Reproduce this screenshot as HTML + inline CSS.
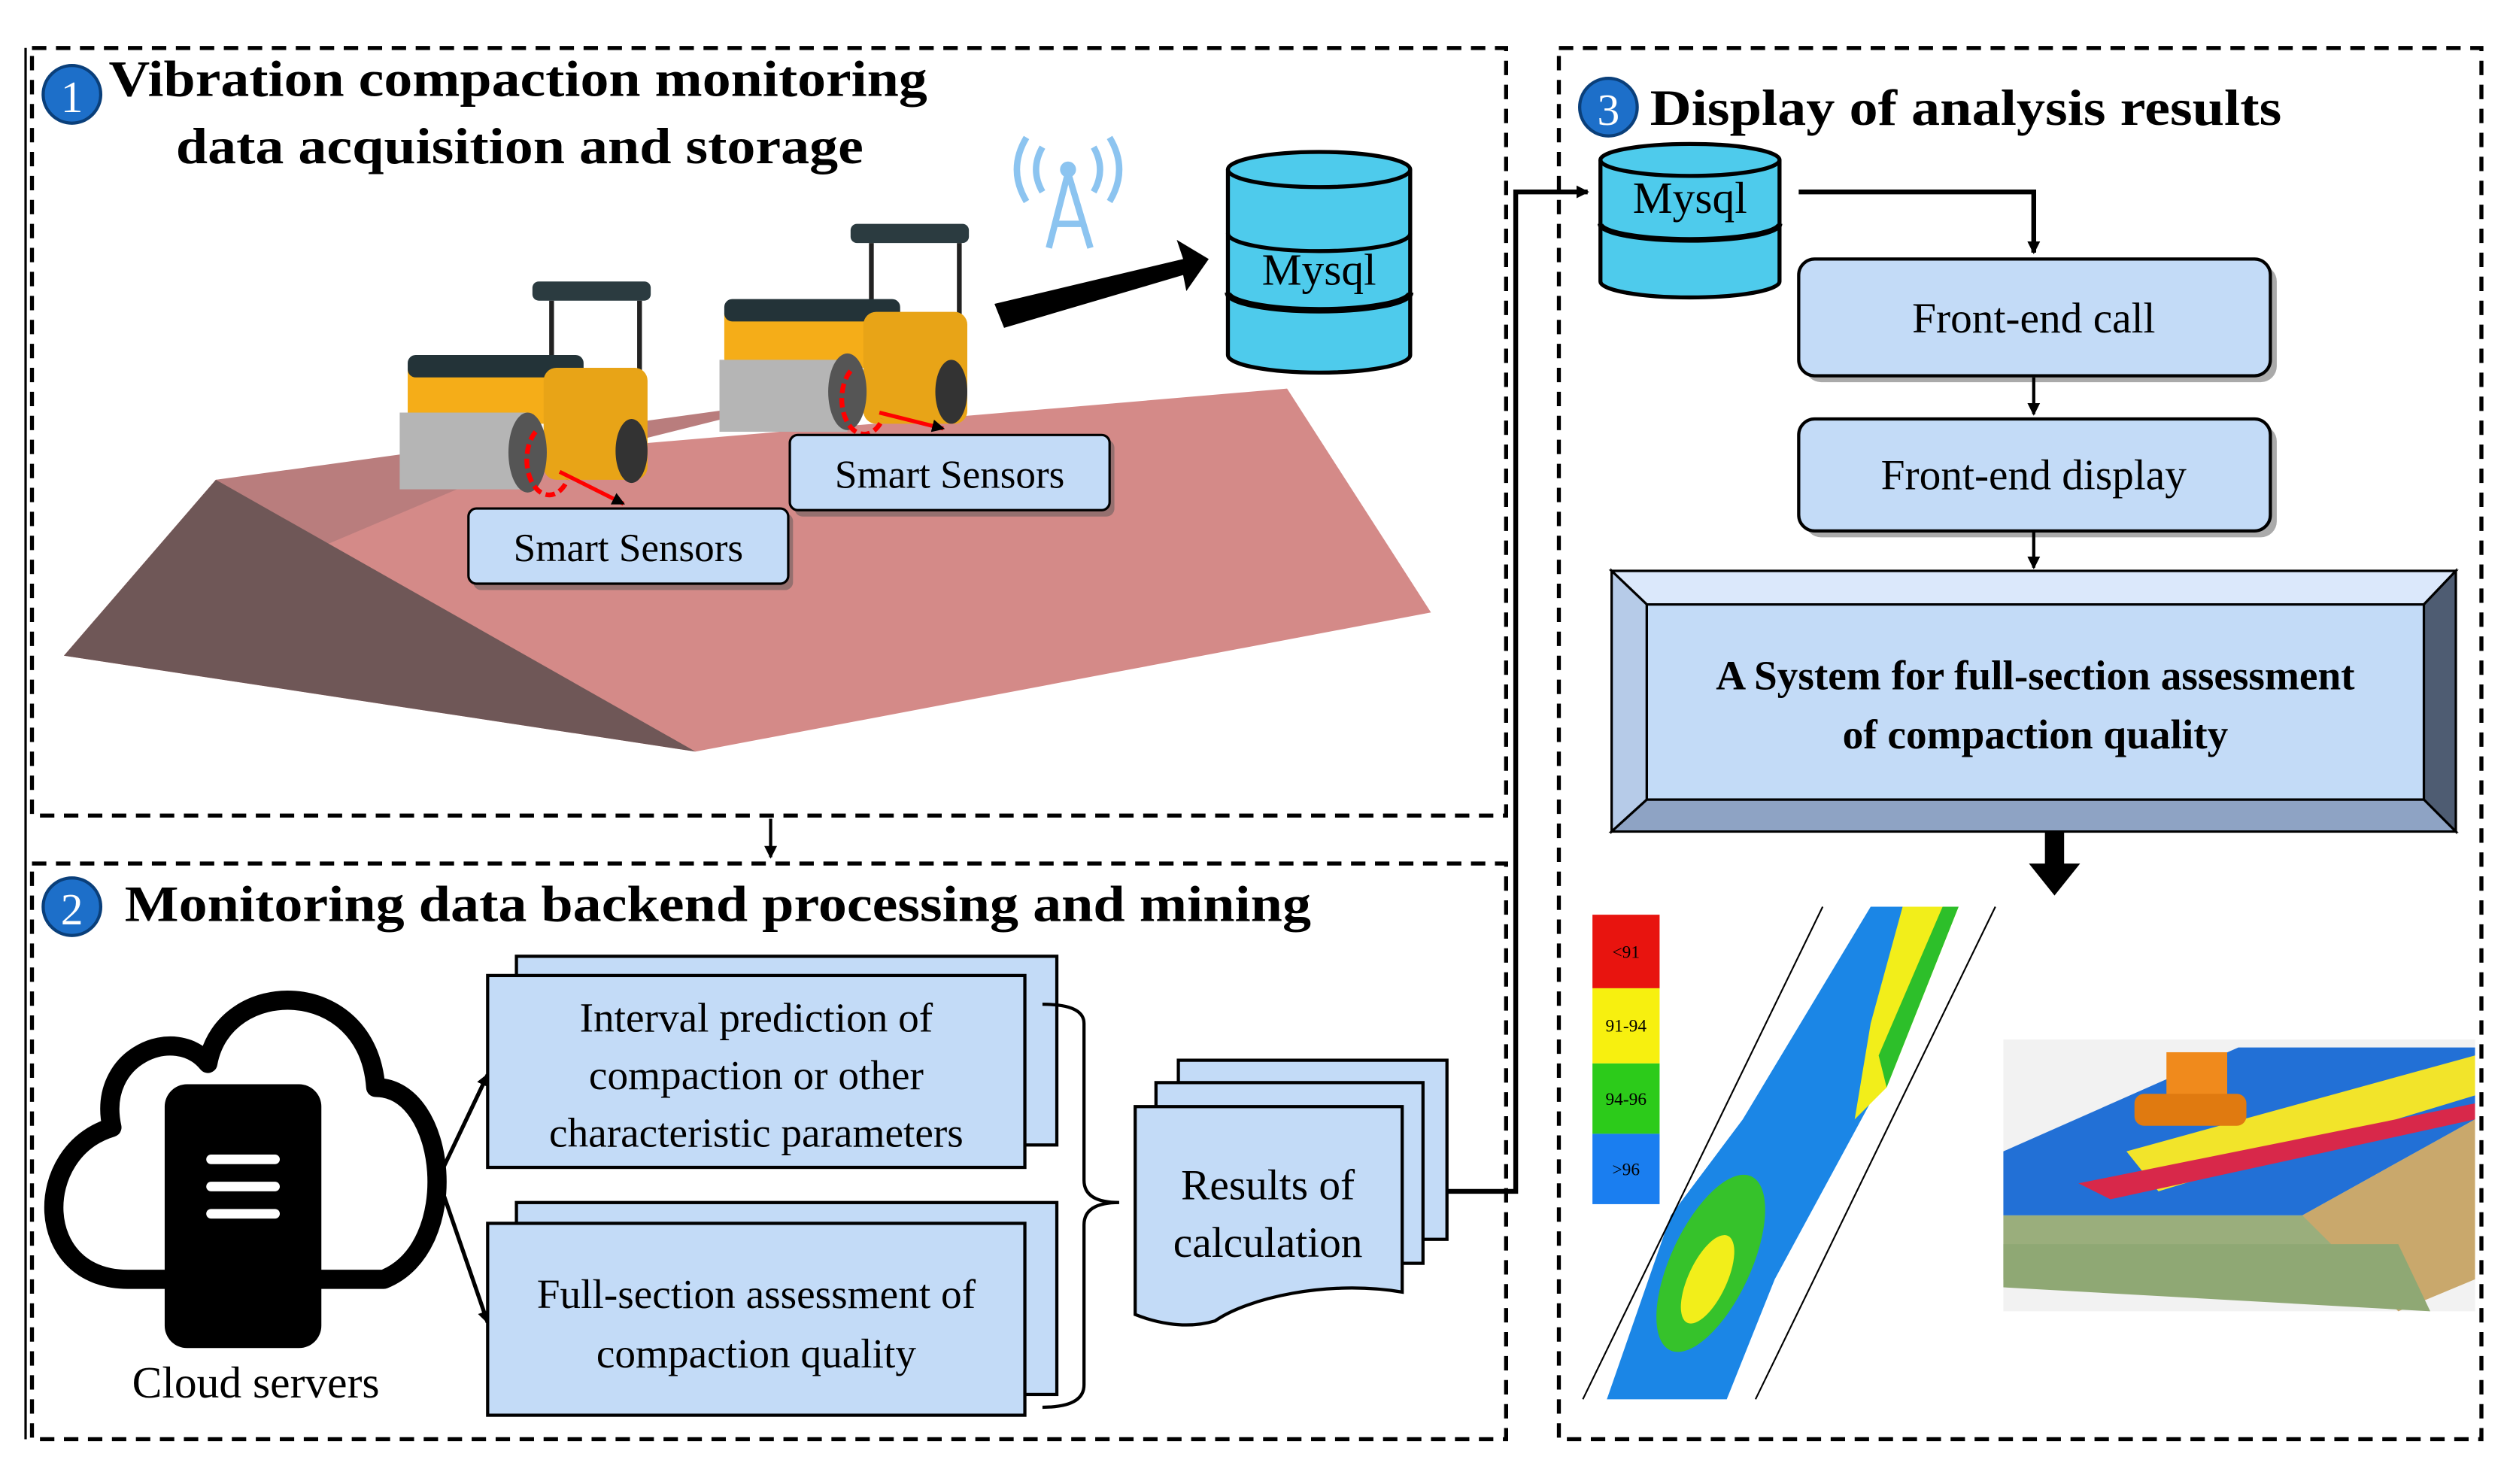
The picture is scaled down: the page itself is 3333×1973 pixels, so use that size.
<!DOCTYPE html>
<html><head><meta charset="utf-8"><style>html,body{margin:0;padding:0;background:#fff}svg{display:block}svg text{font-family:"Liberation Serif","Times New Roman",serif}</style></head>
<body>
<svg xmlns="http://www.w3.org/2000/svg" width="3333" height="1973" viewBox="0 0 1568 928" preserveAspectRatio="none">
<defs>
<marker id="ah" markerWidth="8" markerHeight="8" refX="7" refY="4" orient="auto" markerUnits="userSpaceOnUse"><path d="M0,0 L8,4 L0,8 z" fill="#000"/></marker>
</defs>
<rect width="1568" height="928" fill="#fff"/>
<line x1="16" y1="30" x2="16" y2="900" stroke="#000" stroke-width="1.5"/>
<g fill="none" stroke="#000" stroke-width="2.5" stroke-dasharray="9,6">
<rect x="20" y="30" width="922" height="480"/>
<rect x="20" y="540" width="922" height="360"/>
<rect x="975" y="30" width="577" height="870"/>
</g>
<!-- section 1 -->
<circle cx="45" cy="59" r="18" fill="#1d6fc9" stroke="#0a3f7a" stroke-width="2"/>
<text x="45" y="70" font-size="28" fill="#fff" text-anchor="middle">1</text>
<text x="68" y="60" font-size="32" font-weight="bold" textLength="512" lengthAdjust="spacingAndGlyphs">Vibration compaction monitoring</text>
<text x="110" y="102" font-size="32" font-weight="bold" textLength="430" lengthAdjust="spacingAndGlyphs">data acquisition and storage</text>
<!-- embankment -->
<polygon points="135,300 805,243 895,383 435,470 40,410" fill="#d48a88"/>
<polygon points="135,300 500,250 300,300 40,410" fill="#b97d7d"/>
<polygon points="40,410 135,300 435,470" fill="#6f5757"/>
<!-- rollers -->
<g>
<rect x="333" y="176" width="74" height="12" rx="4" fill="#2b3b40"/>
<line x1="345" y1="188" x2="345" y2="240" stroke="#222" stroke-width="3"/><line x1="400" y1="188" x2="400" y2="290" stroke="#222" stroke-width="3"/>
<rect x="255" y="225" width="110" height="40" rx="6" fill="#f5ad18"/>
<rect x="255" y="222" width="110" height="14" rx="5" fill="#233338"/>
<rect x="340" y="230" width="65" height="70" rx="8" fill="#e8a417"/>
<rect x="250" y="258" width="80" height="48" fill="#b5b5b5"/>
<ellipse cx="330" cy="283" rx="12" ry="25" fill="#555"/>
<ellipse cx="395" cy="282" rx="10" ry="20" fill="#333"/>
<path d="M335,270 A14,22 0 1 0 355,300" fill="none" stroke="red" stroke-width="3" stroke-dasharray="6,3"/>
<line x1="350" y1="295" x2="390" y2="315" stroke="red" stroke-width="2.5" marker-end="url(#ah)"/>
</g>
<g>
<rect x="532" y="140" width="74" height="12" rx="4" fill="#2b3b40"/>
<line x1="545" y1="152" x2="545" y2="205" stroke="#222" stroke-width="3"/><line x1="600" y1="152" x2="600" y2="255" stroke="#222" stroke-width="3"/>
<rect x="453" y="190" width="110" height="40" rx="6" fill="#f5ad18"/>
<rect x="453" y="187" width="110" height="14" rx="5" fill="#233338"/>
<rect x="540" y="195" width="65" height="70" rx="8" fill="#e8a417"/>
<rect x="450" y="225" width="80" height="45" fill="#b5b5b5"/>
<ellipse cx="530" cy="245" rx="12" ry="24" fill="#555"/>
<ellipse cx="595" cy="245" rx="10" ry="20" fill="#333"/>
<path d="M532,232 A14,22 0 1 0 552,262" fill="none" stroke="red" stroke-width="3" stroke-dasharray="6,3"/>
<line x1="550" y1="258" x2="590" y2="268" stroke="red" stroke-width="2.5" marker-end="url(#ah)"/>
</g>
<!-- smart sensors -->
<rect x="497" y="275" width="200" height="48" rx="5" fill="#555" opacity=".5"/>
<rect x="494" y="272" width="200" height="47" rx="5" fill="#c3dbf7" stroke="#000" stroke-width="1.5"/>
<text x="594" y="305" font-size="25" text-anchor="middle">Smart Sensors</text>
<rect x="296" y="321" width="200" height="48" rx="5" fill="#555" opacity=".5"/>
<rect x="293" y="318" width="200" height="47" rx="5" fill="#c3dbf7" stroke="#000" stroke-width="1.5"/>
<text x="393" y="351" font-size="25" text-anchor="middle">Smart Sensors</text>
<!-- antenna -->
<g stroke="#8cc4f0" stroke-width="4" fill="none">
<line x1="668" y1="108" x2="656" y2="155"/><line x1="668" y1="108" x2="682" y2="155"/>
<line x1="660" y1="140" x2="678" y2="140"/>
<path d="M652,92 Q644,106 652,120"/><path d="M684,92 Q692,106 684,120"/>
<path d="M642,86 Q630,106 642,126"/><path d="M694,86 Q706,106 694,126"/>
</g>
<circle cx="668" cy="106" r="5" fill="#8cc4f0"/>
<polygon points="622,190 740,162 736,150 756,162 742,182 740,172 628,205" fill="#000"/>
<!-- mysql left -->
<g stroke="#000" stroke-width="2.5">
<path d="M768,106 L768,222 A57,11 0 0 0 882,222 L882,106" fill="#4ecbec"/>
<ellipse cx="825" cy="106" rx="57" ry="11" fill="#4ecbec"/>
<path d="M768,146 A57,11 0 0 0 882,146" fill="none"/>
<path d="M768,183 A57,11 0 0 0 882,183" fill="none" stroke-width="4"/>
</g>
<text x="825" y="178" font-size="28" text-anchor="middle">Mysql</text>
<line x1="482" y1="512" x2="482" y2="536" stroke="#000" stroke-width="2" marker-end="url(#ah)"/>
<!-- section 2 -->
<circle cx="45" cy="567" r="18" fill="#1d6fc9" stroke="#0a3f7a" stroke-width="2"/>
<text x="45" y="578" font-size="28" fill="#fff" text-anchor="middle">2</text>
<text x="78" y="576" font-size="32" font-weight="bold" textLength="742" lengthAdjust="spacingAndGlyphs">Monitoring data backend processing and mining</text>
<path d="M80,800 C20,800 20,720 70,705 C60,660 110,640 130,665 C140,610 230,610 235,680 C280,680 290,780 240,800 Z" fill="none" stroke="#000" stroke-width="12" stroke-linejoin="round"/>
<rect x="103" y="678" width="98" height="165" rx="14" fill="#000"/>
<g stroke="#fff" stroke-width="6" stroke-linecap="round"><line x1="132" y1="725" x2="172" y2="725"/><line x1="132" y1="742" x2="172" y2="742"/><line x1="132" y1="759" x2="172" y2="759"/></g>
<text x="160" y="874" font-size="28" text-anchor="middle">Cloud servers</text>
<line x1="275" y1="735" x2="305" y2="672" stroke="#000" stroke-width="2.5" marker-end="url(#ah)"/>
<line x1="275" y1="740" x2="305" y2="827" stroke="#000" stroke-width="2.5" marker-end="url(#ah)"/>
<g fill="#c3dbf7" stroke="#000" stroke-width="2">
<rect x="323" y="598" width="338" height="118"/>
<rect x="305" y="610" width="336" height="120"/>
<rect x="323" y="752" width="338" height="120"/>
<rect x="305" y="765" width="336" height="120"/>
</g>
<g font-size="26" text-anchor="middle">
<text x="473" y="645">Interval prediction of</text>
<text x="473" y="681">compaction or other</text>
<text x="473" y="717">characteristic parameters</text>
<text x="473" y="818">Full-section assessment of</text>
<text x="473" y="855">compaction quality</text>
</g>
<path d="M652,628 Q678,628 678,640 L678,738 Q678,752 700,752 Q678,752 678,766 L678,866 Q678,880 652,880" fill="none" stroke="#000" stroke-width="2"/>
<g fill="#c3dbf7" stroke="#000" stroke-width="2">
<rect x="737" y="663" width="168" height="112"/>
<rect x="723" y="677" width="167" height="113"/>
<path d="M710,692 L877,692 L877,808 C830,800 780,812 760,826 C740,832 720,826 710,822 Z"/>
</g>
<text x="793" y="750" font-size="27" text-anchor="middle">Results of</text>
<text x="793" y="786" font-size="27" text-anchor="middle">calculation</text>
<polyline points="905,745 948,745 948,120 993,120" fill="none" stroke="#000" stroke-width="3" marker-end="url(#ah)"/>
<!-- section 3 -->
<circle cx="1006" cy="67" r="18" fill="#1d6fc9" stroke="#0a3f7a" stroke-width="2"/>
<text x="1006" y="78" font-size="28" fill="#fff" text-anchor="middle">3</text>
<text x="1032" y="78" font-size="32" font-weight="bold" textLength="395" lengthAdjust="spacingAndGlyphs">Display of analysis results</text>
<g stroke="#000" stroke-width="2.5">
<path d="M1001,100 L1001,176 A56,10 0 0 0 1113,176 L1113,100" fill="#4ecbec"/>
<ellipse cx="1057" cy="100" rx="56" ry="10" fill="#4ecbec"/>
<path d="M1001,140 A56,10 0 0 0 1113,140" fill="none" stroke-width="3.5"/>
</g>
<text x="1057" y="133" font-size="28" text-anchor="middle">Mysql</text>
<polyline points="1125,120 1272,120 1272,158" fill="none" stroke="#000" stroke-width="3" marker-end="url(#ah)"/>
<rect x="1129" y="166" width="295" height="73" rx="10" fill="#555" opacity=".5"/>
<rect x="1125" y="162" width="295" height="73" rx="10" fill="#c3dbf7" stroke="#000" stroke-width="2"/>
<text x="1272" y="208" font-size="27" text-anchor="middle">Front-end call</text>
<line x1="1272" y1="236" x2="1272" y2="259" stroke="#000" stroke-width="2" marker-end="url(#ah)"/>
<rect x="1129" y="266" width="295" height="70" rx="10" fill="#555" opacity=".5"/>
<rect x="1125" y="262" width="295" height="70" rx="10" fill="#c3dbf7" stroke="#000" stroke-width="2"/>
<text x="1272" y="306" font-size="27" text-anchor="middle">Front-end display</text>
<line x1="1272" y1="333" x2="1272" y2="355" stroke="#000" stroke-width="2" marker-end="url(#ah)"/>
<polygon points="1008,357 1536,357 1516,378 1030,378" fill="#dbe8fb" stroke="#000" stroke-width="1.5"/>
<polygon points="1008,357 1030,378 1030,500 1008,520" fill="#b6cbe8" stroke="#000" stroke-width="1.5"/>
<polygon points="1536,357 1536,520 1516,500 1516,378" fill="#4e5c72" stroke="#000" stroke-width="1.5"/>
<polygon points="1008,520 1030,500 1516,500 1536,520" fill="#8ea3c4" stroke="#000" stroke-width="1.5"/>
<rect x="1030" y="378" width="486" height="122" fill="#c3dbf7" stroke="#000" stroke-width="1.5"/>
<text x="1273" y="431" font-size="26" font-weight="bold" text-anchor="middle">A System for full-section assessment</text>
<text x="1273" y="468" font-size="26" font-weight="bold" text-anchor="middle">of compaction quality</text>
<polygon points="1279,520 1291,520 1291,540 1301,540 1285,560 1269,540 1279,540" fill="#000"/>
<rect x="996" y="572" width="42" height="46" fill="#e8140f"/>
<rect x="996" y="618" width="42" height="47" fill="#f7f00f"/>
<rect x="996" y="665" width="42" height="44" fill="#2ccb1a"/>
<rect x="996" y="709" width="42" height="44" fill="#1a7ef0"/>
<g font-size="11" text-anchor="middle"><text x="1017" y="599">&lt;91</text><text x="1017" y="645">91-94</text><text x="1017" y="691">94-96</text><text x="1017" y="735">&gt;96</text></g>
<polygon points="1170,567 1225,567 1175,680 1110,800 1080,875 1005,875 1045,760 1090,700" fill="#1b86e6"/>
<polygon points="1190,567 1225,567 1180,680 1160,700 1170,640" fill="#f2ee1a"/>
<polygon points="1215,567 1225,567 1180,680 1175,660" fill="#2dbf2a"/>
<ellipse cx="1070" cy="790" rx="25" ry="60" transform="rotate(25 1070 790)" fill="#36c22b"/>
<ellipse cx="1068" cy="800" rx="12" ry="30" transform="rotate(25 1068 800)" fill="#f2ee1a"/>
<line x1="990" y1="875" x2="1140" y2="567" stroke="#000" stroke-width="1"/>
<line x1="1098" y1="875" x2="1248" y2="567" stroke="#000" stroke-width="1"/>
<rect x="1253" y="650" width="295" height="170" fill="#f2f2f2"/>
<polygon points="1253,720 1400,655 1548,655 1548,700 1440,760 1253,760" fill="#2270d6"/>
<polygon points="1330,720 1548,660 1548,685 1350,745" fill="#f2e42a"/>
<polygon points="1300,740 1548,690 1548,700 1320,750" fill="#d8284a"/>
<polygon points="1253,760 1440,760 1548,700 1548,790 1253,800" fill="#9aae7c"/>
<polygon points="1440,760 1548,700 1548,800 1500,820" fill="#c9a86c"/>
<polygon points="1253,778 1500,778 1520,820 1253,805" fill="#8fa874"/>
<rect x="1355" y="658" width="38" height="30" fill="#f08a1c"/>
<rect x="1335" y="684" width="70" height="20" rx="6" fill="#e07a10"/>
</svg>
</body></html>
